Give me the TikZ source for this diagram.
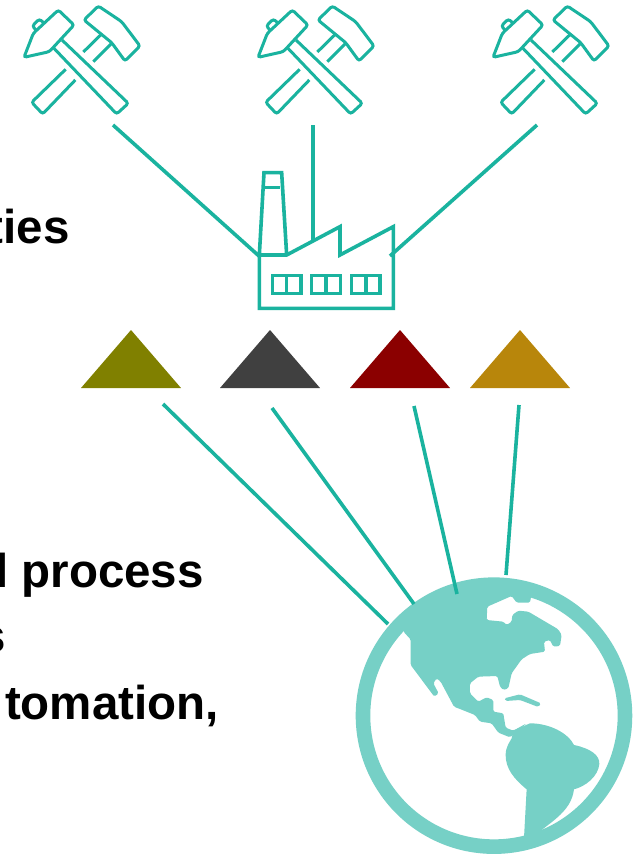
\documentclass[tikz,border=0pt]{standalone}
\usepackage{fontspec}
\setmainfont{Liberation Sans}
\usepackage{xcolor}
\definecolor{teal1}{HTML}{1AB39F}
\definecolor{globe1}{HTML}{76D0C6}
\definecolor{ore1}{HTML}{808000}
\definecolor{ore2}{HTML}{404040}
\definecolor{ore3}{HTML}{8B0000}
\definecolor{ore4}{HTML}{B8860B}
\newcommand{\hammericon}{%
  % left hammer
  \draw [Thin] (72,172) -- (100,100) -- (175,30) -- (222,75) -- (148,155) -- cycle;
  \draw [Thin] (108,90) -- (97,78) -- (118,57) -- (133,70);
  \draw [Thin] (186,120) -- (385,310) -- (350,342) -- (162,145);
  % right hammer
  \draw [Thin] (295,18) -- (365,65) -- (420,138) -- (375,183) -- (335,128) -- (252,60) -- cycle;
  \draw [Thin] (305,102) -- (250,156); \draw [Thin] (335,130) -- (280,185);
  \draw [Thin] (197,208) -- (95,307) -- (128,342) -- (226,240);
}
\begin{document}
\begin{tikzpicture}[x=1pt,y=-1pt]
    \tikzstyle{Thin} = [draw=teal1,line width=3pt,rounded corners=2.5pt]
    \tikzstyle{Icon} = [draw=teal1,line width=3.6pt]
    \tikzstyle{Link} = [draw=teal1,line width=3.6pt]
    \tikzstyle{Txt} = [anchor=base east,inner sep=0pt,font=\fontsize{47.5}{47.5}\selectfont\bfseries]
    \useasboundingbox (0,0) rectangle (641,855);
    \clip (0,0) rectangle (641,855);
    %%
    \fill [white] (0,0) rectangle (641,855);
    \node [Txt] (txtA) at (70,243) {ties};
    \node [Txt] (txtB) at (204,587) {l process};
    \node [Txt] (txtC) at (6,652) {s};
    \node [Txt] (txtD) at (219,719) {tomation,};
    %%
    \begin{scope}[scale=.3333]
      \hammericon
    \end{scope}
    \begin{scope}[shift={(234,0)},scale=.3333]
      \hammericon
    \end{scope}
    \begin{scope}[shift={(469,0)},scale=.3333]
      \hammericon
    \end{scope}
    %%
    \begin{scope}[shift={(240,160)},scale=.3333]
      \draw [Icon] (58,285) -- (72,38) -- (125,38) -- (140,285);
      \draw [Icon] (76,83) -- (121,83);
      \draw [Icon] (58,285) -- (58,445) -- (460,445) -- (460,200) -- (300,285) -- (300,200)
        -- (140,285) -- cycle;
      \draw [Icon] (97,347) rectangle (183,400); \draw [Icon] (140,347) -- (140,400);
      \draw [Icon] (215,347) rectangle (302,400); \draw [Icon] (258,347) -- (258,400);
      \draw [Icon] (335,347) rectangle (420,400); \draw [Icon] (378,347) -- (378,400);
    \end{scope}
    %%
    \coordinate (hammerA) at (113,125);
    \coordinate (hammerB) at (313,125);
    \coordinate (hammerC) at (537,125);
    \coordinate (factoryA) at (259,256);
    \coordinate (factoryB) at (313,240);
    \coordinate (factoryC) at (390,256);
    \path [Link] (hammerA) -- (factoryA);
    \path [Link] (hammerB) -- (factoryB);
    \path [Link] (hammerC) -- (factoryC);
    %%
    \fill [ore1] (81,388) -- (131,330) -- (181,388) -- cycle;
    \fill [ore2] (220,388) -- (270,330) -- (320,388) -- cycle;
    \fill [ore3] (350,388) -- (400,330) -- (450,388) -- cycle;
    \fill [ore4] (470,388) -- (520,330) -- (570,388) -- cycle;
    %%
    \begin{scope}[shift={(340,560)},scale=.3333]
      \draw [globe1,line width=14.6pt] (462,467) circle (393);
      % north america
      \fill [globe1,rounded corners=1.5pt] (190,215) -- (230,140) -- (320,100) -- (460,75) -- (575,100)
        -- (570,128) -- (530,128) -- (515,108) -- (442,140) -- (440,180) -- (490,185)
        -- (500,195) -- (515,185) -- (517,165) -- (535,152) -- (565,155) -- (655,208)
        -- (665,225) -- (660,258) -- (640,260) -- (630,240) -- (612,245) -- (615,275)
        -- (570,282) -- (545,298) -- (515,340) -- (505,385) -- (490,390) -- (480,380)
        -- (472,348) -- (415,350) -- (390,370) -- (390,400) -- (415,425) -- (440,412)
        -- (460,420) -- (460,455) -- (490,460) -- (497,503) -- (520,512) -- (560,490)
        -- (510,532) -- (475,518) -- (455,490) -- (420,485) -- (405,465) -- (342,440)
        -- (302,365) -- (290,355) -- (280,370) -- (296,400) -- (283,410) -- (212,315)
        -- (212,238) -- cycle;
      % south america
      \fill [globe1] (515,535) -- (520,512) -- (570,490) .. controls (630,490) and (685,520)
        .. (702,555) .. controls (750,565) and (780,585) .. (778,612)
        .. controls (775,650) and (735,680) .. (702,688)
        .. controls (695,745) and (650,775) .. (605,810) -- (590,835) -- (552,835)
        -- (560,688) .. controls (520,655) and (497,625) .. (497,585)
        .. controls (497,560) and (510,545) .. (515,535) -- cycle;
      % cuba
      \fill [globe1,rounded corners=1.5pt] (493,415) -- (540,403) -- (603,430) -- (595,441)
        -- (540,420) -- (497,423) -- cycle;
    \end{scope}
    %%
    \coordinate (oreA) at (163,404);
    \coordinate (oreB) at (272,408);
    \coordinate (oreC) at (414,406);
    \coordinate (oreD) at (519,405);
    \coordinate (earthA) at (388,624);
    \coordinate (earthB) at (414,604);
    \coordinate (earthC) at (457,594);
    \coordinate (earthD) at (506,575);
    \path [Link] (oreA) -- (earthA);
    \path [Link] (oreB) -- (earthB);
    \path [Link] (oreC) -- (earthC);
    \path [Link] (oreD) -- (earthD);
  \end{tikzpicture}
\end{document}
